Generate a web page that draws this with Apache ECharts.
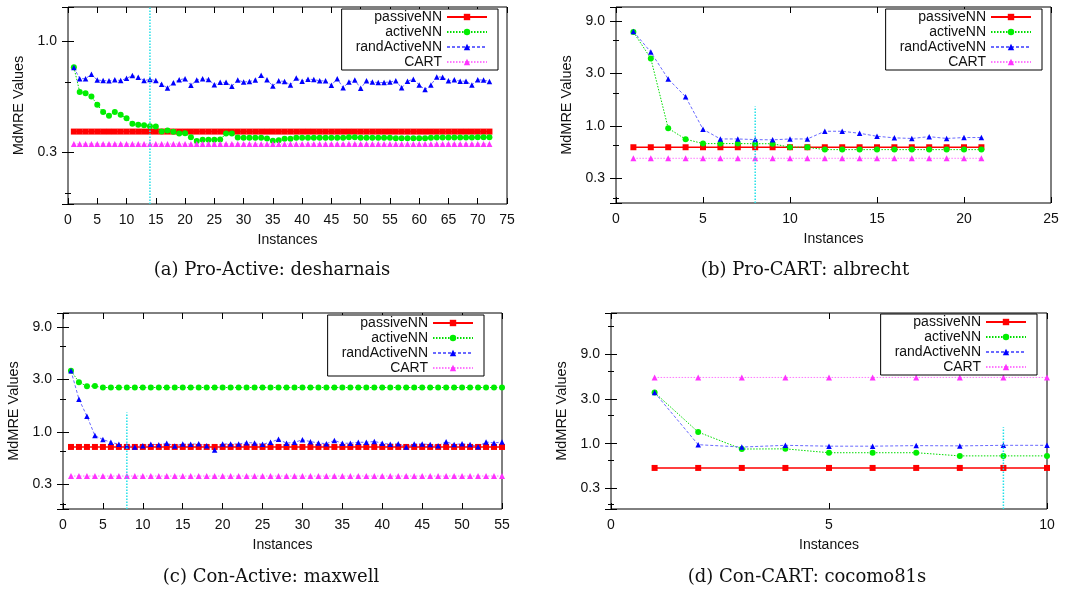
<!DOCTYPE html>
<html>
<head>
<meta charset="utf-8">
<title>MdMRE vs instances</title>
<script src="https://cdn.jsdelivr.net/npm/echarts@6.0.0/dist/echarts.min.js"></script>
<style>
  html, body { margin: 0; padding: 0; background: #fff; }
  #chart { width: 1084px; height: 593px; }
</style>
</head>
<body>
<div id="chart"></div>
<script>
// series names, same in every panel
var names = ['passiveNN', 'activeNN', 'randActiveNN', 'CART'];

// (a) Pro-Active: desharnais, 72 instances
var passiveA = [0.409, 0.409, 0.409, 0.409, 0.409, 0.409, 0.409, 0.409, 0.409, 0.409, 0.409, 0.409, 0.409, 0.409, 0.409, 0.409, 0.409, 0.409, 0.409, 0.409, 0.409, 0.409, 0.409, 0.409, 0.409, 0.409, 0.409, 0.409, 0.409, 0.409, 0.409, 0.409, 0.409, 0.409, 0.409, 0.409, 0.409, 0.409, 0.409, 0.409, 0.409, 0.409, 0.409, 0.409, 0.409, 0.409, 0.409, 0.409, 0.409, 0.409, 0.409, 0.409, 0.409, 0.409, 0.409, 0.409, 0.409, 0.409, 0.409, 0.409, 0.409, 0.409, 0.409, 0.409, 0.409, 0.409, 0.409, 0.409, 0.409, 0.409, 0.409, 0.409];
var activeA = [0.773, 0.605, 0.597, 0.579, 0.533, 0.496, 0.478, 0.496, 0.483, 0.466, 0.442, 0.437, 0.435, 0.431, 0.43, 0.409, 0.413, 0.408, 0.401, 0.402, 0.387, 0.373, 0.377, 0.377, 0.377, 0.378, 0.401, 0.401, 0.386, 0.385, 0.385, 0.385, 0.385, 0.382, 0.374, 0.375, 0.381, 0.381, 0.385, 0.385, 0.385, 0.385, 0.385, 0.385, 0.385, 0.385, 0.385, 0.387, 0.387, 0.385, 0.385, 0.385, 0.385, 0.385, 0.385, 0.383, 0.383, 0.383, 0.383, 0.383, 0.383, 0.385, 0.386, 0.386, 0.386, 0.386, 0.386, 0.386, 0.386, 0.387, 0.387, 0.387];
var randA = [0.77, 0.69, 0.69, 0.72, 0.68, 0.677, 0.675, 0.682, 0.677, 0.692, 0.711, 0.70, 0.677, 0.684, 0.677, 0.652, 0.629, 0.663, 0.682, 0.69, 0.646, 0.68, 0.69, 0.684, 0.65, 0.665, 0.665, 0.64, 0.68, 0.667, 0.671, 0.68, 0.713, 0.682, 0.642, 0.675, 0.671, 0.648, 0.695, 0.673, 0.686, 0.684, 0.675, 0.675, 0.646, 0.69, 0.63, 0.668, 0.68, 0.627, 0.675, 0.667, 0.664, 0.664, 0.668, 0.675, 0.63, 0.673, 0.686, 0.648, 0.619, 0.648, 0.702, 0.70, 0.675, 0.682, 0.673, 0.673, 0.648, 0.682, 0.68, 0.671];
var cartA = [0.362, 0.362, 0.362, 0.362, 0.362, 0.362, 0.362, 0.362, 0.362, 0.362, 0.362, 0.362, 0.362, 0.362, 0.362, 0.362, 0.362, 0.362, 0.362, 0.362, 0.362, 0.362, 0.362, 0.362, 0.362, 0.362, 0.362, 0.362, 0.362, 0.362, 0.362, 0.362, 0.362, 0.362, 0.362, 0.362, 0.362, 0.362, 0.362, 0.362, 0.362, 0.362, 0.362, 0.362, 0.362, 0.362, 0.362, 0.362, 0.362, 0.362, 0.362, 0.362, 0.362, 0.362, 0.362, 0.362, 0.362, 0.362, 0.362, 0.362, 0.362, 0.362, 0.362, 0.362, 0.362, 0.362, 0.362, 0.362, 0.362, 0.362, 0.362, 0.362];

// (b) Pro-CART: albrecht, 21 instances
var passiveB = [0.641, 0.641, 0.641, 0.641, 0.641, 0.641, 0.641, 0.641, 0.641, 0.641, 0.641, 0.641, 0.641, 0.641, 0.641, 0.641, 0.641, 0.641, 0.641, 0.641, 0.641];
var activeB = [7.11, 4.10, 0.953, 0.758, 0.692, 0.692, 0.692, 0.69, 0.69, 0.641, 0.641, 0.61, 0.61, 0.61, 0.61, 0.61, 0.61, 0.61, 0.61, 0.61, 0.61];
var randB = [7.2, 4.68, 2.67, 1.84, 0.933, 0.762, 0.762, 0.752, 0.748, 0.762, 0.762, 0.895, 0.895, 0.858, 0.806, 0.78, 0.77, 0.80, 0.77, 0.785, 0.785];
var cartB = [0.509, 0.509, 0.509, 0.509, 0.509, 0.509, 0.509, 0.509, 0.509, 0.509, 0.509, 0.509, 0.509, 0.509, 0.509, 0.509, 0.509, 0.509, 0.509, 0.509, 0.509];

// (c) Con-Active: maxwell, 55 instances
var passiveC = [0.731, 0.731, 0.731, 0.731, 0.731, 0.731, 0.731, 0.731, 0.731, 0.731, 0.731, 0.731, 0.731, 0.731, 0.731, 0.731, 0.731, 0.731, 0.731, 0.731, 0.731, 0.731, 0.731, 0.731, 0.731, 0.731, 0.731, 0.731, 0.731, 0.731, 0.731, 0.731, 0.731, 0.731, 0.731, 0.731, 0.731, 0.731, 0.731, 0.731, 0.731, 0.731, 0.731, 0.731, 0.731, 0.731, 0.731, 0.731, 0.731, 0.731, 0.731, 0.731, 0.731, 0.731, 0.731];
var activeC = [3.59, 2.83, 2.60, 2.61, 2.53, 2.53, 2.53, 2.53, 2.53, 2.53, 2.53, 2.53, 2.53, 2.53, 2.53, 2.53, 2.53, 2.53, 2.53, 2.53, 2.53, 2.53, 2.53, 2.53, 2.53, 2.53, 2.53, 2.53, 2.53, 2.53, 2.53, 2.53, 2.53, 2.53, 2.53, 2.53, 2.53, 2.53, 2.53, 2.53, 2.53, 2.53, 2.53, 2.53, 2.53, 2.53, 2.53, 2.53, 2.53, 2.53, 2.53, 2.53, 2.53, 2.53, 2.53];
var randC = [3.59, 1.98, 1.39, 0.927, 0.853, 0.806, 0.773, 0.751, 0.731, 0.751, 0.773, 0.765, 0.79, 0.745, 0.778, 0.773, 0.782, 0.751, 0.687, 0.778, 0.778, 0.778, 0.80, 0.795, 0.773, 0.806, 0.859, 0.79, 0.806, 0.848, 0.817, 0.795, 0.782, 0.837, 0.79, 0.79, 0.806, 0.806, 0.82, 0.79, 0.773, 0.782, 0.731, 0.778, 0.778, 0.768, 0.751, 0.817, 0.768, 0.782, 0.768, 0.736, 0.811, 0.795, 0.811];
var cartC = [0.398, 0.398, 0.398, 0.398, 0.398, 0.398, 0.398, 0.398, 0.398, 0.398, 0.398, 0.398, 0.398, 0.398, 0.398, 0.398, 0.398, 0.398, 0.398, 0.398, 0.398, 0.398, 0.398, 0.398, 0.398, 0.398, 0.398, 0.398, 0.398, 0.398, 0.398, 0.398, 0.398, 0.398, 0.398, 0.398, 0.398, 0.398, 0.398, 0.398, 0.398, 0.398, 0.398, 0.398, 0.398, 0.398, 0.398, 0.398, 0.398, 0.398, 0.398, 0.398, 0.398, 0.398, 0.398];

// (d) Con-CART: cocomo81s, 10 instances
var passiveD = [0.55, 0.55, 0.55, 0.55, 0.55, 0.55, 0.55, 0.55, 0.55, 0.55];
var activeD = [3.52, 1.33, 0.876, 0.88, 0.80, 0.80, 0.80, 0.74, 0.74, 0.74];
var randD = [3.52, 0.975, 0.92, 0.96, 0.94, 0.94, 0.953, 0.947, 0.96, 0.96];
var cartD = [5.11, 5.11, 5.11, 5.11, 5.11, 5.11, 5.11, 5.11, 5.11, 5.11];

// cyan marker: instance where it is drawn, and its top value
var cutAt = [14, 8, 8, 9];
var cutTop = [1.4, 1.5, 1.5, 1.5];

// axis ranges
var xMax = [75, 25, 55, 10];
var yMin = [0.2, 0.2, 0.2, 0.2];
var yMax = [1.4, 12, 12, 25];

var captions = ['(a) Pro-Active: desharnais', '(b) Pro-CART: albrecht', '(c) Con-Active: maxwell', '(d) Con-CART: cocomo81s'];
var panelData = [
  [passiveA, activeA, randA, cartA],
  [passiveB, activeB, randB, cartB],
  [passiveC, activeC, randC, cartC],
  [passiveD, activeD, randD, cartD]
];

// layout of each panel (pixels)
var grids = [
  { left: 68, top: 7, width: 439, height: 197 },
  { left: 616, top: 7, width: 435, height: 196 },
  { left: 63, top: 313, width: 439, height: 196 },
  { left: 611, top: 313, width: 436, height: 196 }
];
var legendPos = [
  { right: 586, top: 9 },
  { right: 42, top: 9 },
  { right: 600, top: 315 },
  { right: 47, top: 314 }
];
var captionPos = [[272, 270], [805, 270], [271, 577], [807, 577]];

var sans = '"Liberation Sans", Arial, sans-serif';
var ink = '#111';

var seriesStyle = [
  { symbol: 'rect', symbolSize: 6, itemStyle: { color: '#ff0000' }, lineStyle: { color: '#ff0000', width: 1.5, type: 'solid' } },
  { symbol: 'circle', symbolSize: 6, itemStyle: { color: '#00ee00' }, lineStyle: { color: '#00dd00', width: 1, type: [1.5, 1.5] } },
  { symbol: 'triangle', symbolSize: 5.5, itemStyle: { color: '#0000ff' }, lineStyle: { color: '#6a6aff', width: 1, type: [3, 2] } },
  { symbol: 'triangle', symbolSize: 6, itemStyle: { color: '#ff33ff' }, lineStyle: { color: '#ff77ff', width: 1, type: [1.5, 1.5] } }
];

// only powers of 3 get a label, like the original plot
function logLabel(v) {
  var e = Math.log(v) / Math.log(3);
  return Math.abs(e - Math.round(e)) < 1e-4 ? v.toFixed(1) : '';
}

var option = {
  animation: false,
  backgroundColor: '#fff',
  grid: [],
  xAxis: [],
  yAxis: [],
  legend: [],
  series: [],
  graphic: []
};

for (var p = 0; p < 4; p++) {
  option.grid.push(Object.assign({ show: true, borderColor: '#000', borderWidth: 1, backgroundColor: 'transparent' }, grids[p]));

  var tick = { show: true, inside: true, length: 6, lineStyle: { color: '#000', width: 1 } };
  var minor = { show: true, splitNumber: 2, length: 3, lineStyle: { color: '#000', width: 1 } };

  // bottom and top x axes (top one only mirrors the ticks)
  option.xAxis.push({
    type: 'value', gridIndex: p, position: 'bottom', min: 0, max: xMax[p], interval: 5,
    axisLine: { show: false }, splitLine: { show: false }, axisTick: tick,
    axisLabel: { margin: 9, fontSize: 14, color: ink, fontFamily: sans },
    name: 'Instances', nameLocation: 'middle', nameGap: 29,
    nameTextStyle: { fontSize: 14, color: ink, fontFamily: sans }
  });
  option.xAxis.push({
    type: 'value', gridIndex: p, position: 'top', min: 0, max: xMax[p], interval: 5,
    axisLine: { show: false }, splitLine: { show: false }, axisTick: tick, axisLabel: { show: false }
  });

  option.yAxis.push({
    type: 'log', logBase: 3, gridIndex: p, position: 'left', min: yMin[p], max: yMax[p],
    axisLine: { show: false }, splitLine: { show: false }, axisTick: tick, minorTick: minor,
    axisLabel: { margin: 11, fontSize: 14, color: ink, fontFamily: sans, formatter: logLabel },
    name: 'MdMRE Values', nameLocation: 'middle', nameGap: 42,
    nameTextStyle: { fontSize: 14.5, color: ink, fontFamily: sans }
  });
  option.yAxis.push({
    type: 'log', logBase: 3, gridIndex: p, position: 'right', min: yMin[p], max: yMax[p],
    axisLine: { show: false }, splitLine: { show: false }, axisTick: tick, minorTick: minor,
    axisLabel: { show: false }
  });

  option.legend.push(Object.assign({
    orient: 'vertical', align: 'right', data: names, selectedMode: false,
    itemWidth: 40, itemHeight: 8, itemGap: 1,
    padding: [1, 10, 1, 14],
    borderColor: '#000', borderWidth: 1, backgroundColor: '#fff',
    textStyle: { fontSize: 14, color: ink, fontFamily: sans }
  }, legendPos[p]));

  for (var s = 0; s < 4; s++) {
    var st = seriesStyle[s];
    option.series.push({
      name: names[s], type: 'line', xAxisIndex: 2 * p, yAxisIndex: 2 * p,
      data: panelData[p][s].map(function (v, i) { return [i + 1, v]; }),
      symbol: st.symbol, symbolSize: st.symbolSize,
      itemStyle: st.itemStyle, lineStyle: st.lineStyle,
      showSymbol: true, silent: true
    });
  }

  option.series.push({
    name: 'split', type: 'line', xAxisIndex: 2 * p, yAxisIndex: 2 * p,
    data: [[cutAt[p], yMin[p]], [cutAt[p], cutTop[p]]],
    symbol: 'none', silent: true, z: 5,
    lineStyle: { color: '#22e0e8', width: 1.5, type: 'dotted' }
  });

  option.graphic.push({
    type: 'text', x: captionPos[p][0], y: captionPos[p][1], silent: true,
    style: {
      text: captions[p], fill: '#111', align: 'center', verticalAlign: 'middle',
      font: '18px "DejaVu Serif", serif'
    }
  });
}

var chart = echarts.init(document.getElementById('chart'));
chart.setOption(option);
</script>
</body>
</html>
